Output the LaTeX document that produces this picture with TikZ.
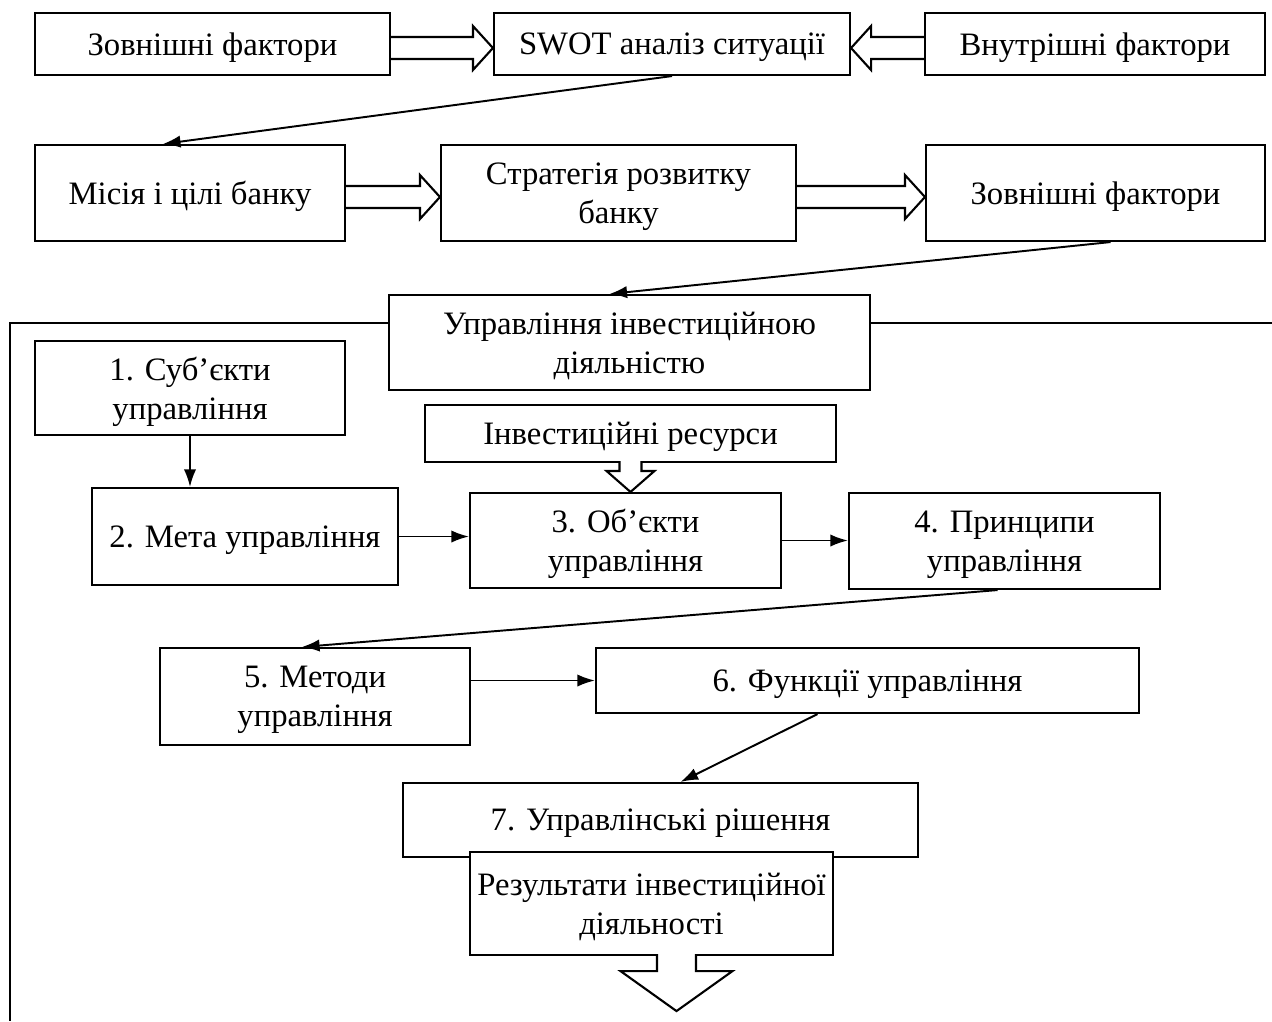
\documentclass[tikz,border=0pt]{standalone}
\usepackage{fontspec}
\setmainfont{Liberation Serif}
\usetikzlibrary{arrows.meta,calc}

% hollow arrows between boxes
\newcommand{\fatright}[2]{%
  \path ($(#1.east)+(0,4)$) coordinate (fa) ($(#2.west)+(0,4)$) coordinate (fb);
  \draw[fat] ($(fa)+(0,-11)$) -- ($(fb)+(-20,-11)$) -- ($(fb)+(-20,-22)$)
    -- (fb) -- ($(fb)+(-20,22)$) -- ($(fb)+(-20,11)$) -- ($(fa)+(0,11)$);}
\newcommand{\fatleft}[2]{%
  \path ($(#1.west)+(0,4)$) coordinate (fa) ($(#2.east)+(0,4)$) coordinate (fb);
  \draw[fat] ($(fa)+(0,-11)$) -- ($(fb)+(20,-11)$) -- ($(fb)+(20,-22)$)
    -- (fb) -- ($(fb)+(20,22)$) -- ($(fb)+(20,11)$) -- ($(fa)+(0,11)$);}
\newcommand{\fatdown}[5]{%
  \draw[fat] ($(#1)+(-#3,0)$) -- ($(#2)+(-#3,-#5)$) -- ($(#2)+(-#4,-#5)$)
    -- (#2) -- ($(#2)+(#4,-#5)$) -- ($(#2)+(#3,-#5)$) -- ($(#1)+(#3,0)$);}

\begin{document}
\begin{tikzpicture}[x=0.2mm, y=-0.2mm,
    box/.style={draw, line width=1.2pt, fill=white, align=center, inner sep=2pt,
        text depth=0pt, font=\fontsize{18.6}{22}\selectfont},
    wh/.style 2 args={minimum width=#1*0.2mm, minimum height=#2*0.2mm},
    fat/.style={line width=1.2pt, fill=white},
    link/.style={line width=1.1pt, -{Latex[length=10pt,width=7pt]}},
    frame/.style={line width=1.4pt}]
   \useasboundingbox (0,0) rectangle (1272,1021);

   % outer frame
   \draw[frame] (1272,323) -- (10,323) -- (10,1021);

   \node[box, wh={355}{62}] (zovn1) at (212.5,44) {Зовнішні фактори};
   \node[box, wh={356}{62}] (swot) at (672,44) {SWOT аналіз ситуації};
   \node[box, wh={340}{62}] (vnutr) at (1095,44) {Внутрішні фактори};

   \node[box, wh={310}{96}] (misia) at (190,193) {Місія і цілі банку};
   \node[box, wh={355}{96}] (strat) at (618.5,193) {Стратегія розвитку\\банку};
   \node[box, wh={339}{96}] (zovn2) at (1095.5,193) {Зовнішні фактори};

   \node[box, wh={481}{95}] (upr) at (629.5,342.5) {Управління інвестиційною\\діяльністю};
   \node[box, wh={310}{94}] (subj) at (190,388) {1. Суб’єкти\\управління};
   \node[box, wh={411}{57}] (resursy) at (630.5,433.5) {Інвестиційні ресурси};

   \node[box, wh={306}{97}] (meta) at (245,536.5) {2. Мета управління};
   \node[box, wh={311}{95}] (obj) at (625.5,540.5) {3. Об’єкти\\управління};
   \node[box, wh={311}{96}] (pryntsypy) at (1004.5,541) {4. Принципи\\управління};

   \node[box, wh={310}{97}] (metody) at (315,696.5) {5. Методи\\управління};
   \node[box, wh={543}{65}] (funktsii) at (867.5,680.5) {6. Функції управління};

   \node[box, wh={515}{74}] (rishennia) at (660.5,820) {7. Управлінські рішення};
   \node[box, wh={363}{103}] (rezult) at (651.5,903.5) {Результати інвестиційної\\діяльності};

   % connectors
   \fatright{zovn1}{swot}
   \fatleft{vnutr}{swot}
   \draw[link] (swot.south) -- ($(misia.north)+(-27,0)$);
   \fatright{misia}{strat}
   \fatright{strat}{zovn2}
   \draw[link] ($(zovn2.south)+(15,0)$) -- ($(upr.north)+(-20,0)$);

   \draw[link] (subj.south) -- (subj.south |- meta.north);
   \coordinate (restop) at ($(resursy.south)+(0,-2)$);
   \coordinate (restip) at (resursy.south |- obj.north);
   \fatdown{restop}{restip}{11}{24}{21}
   \draw[link] (meta.east) -- (meta.east -| obj.west);
   \draw[link] (obj.east) -- (obj.east -| pryntsypy.west);
   \draw[link] ($(pryntsypy.south)+(-7,0)$) -- ($(metody.north)+(-13,0)$);
   \draw[link] (funktsii.west -| metody.east) -- (funktsii.west);
   \draw[link] ($(funktsii.south)+(-50,0)$) -- ($(rishennia.north)+(20,0)$);

   \coordinate (rezultop) at ($(rezult.south)+(25,-2)$);
   \coordinate (rezultip) at ($(rezult.south)+(25,55)$);
   \fatdown{rezultop}{rezultip}{19.5}{56}{40}
\end{tikzpicture}
\end{document}
